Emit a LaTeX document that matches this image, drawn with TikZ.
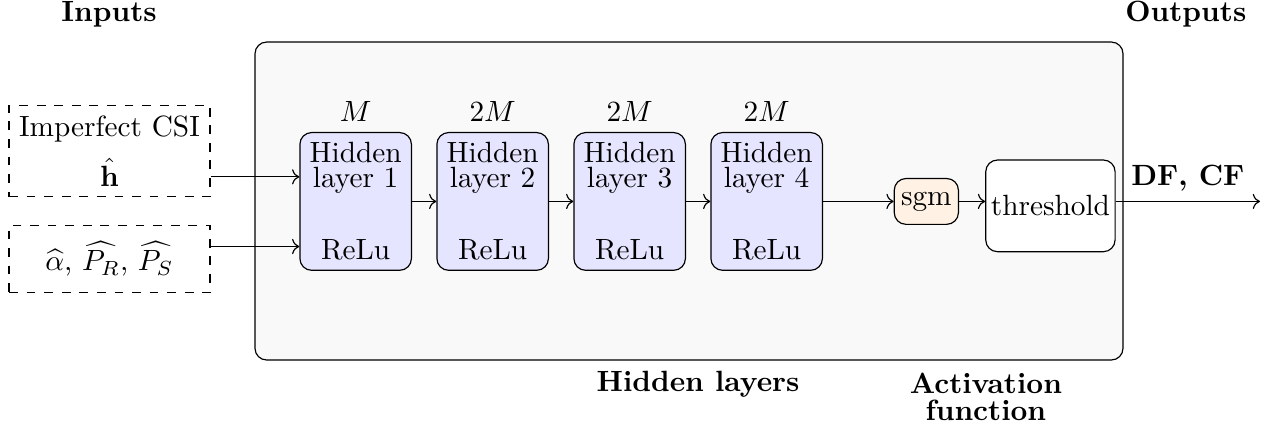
\documentclass[tikz,border=0pt]{standalone}
\usepackage{amssymb}
\usepackage{amsmath}
\usepackage{xcolor}
\usepackage{tikz}
\usetikzlibrary{arrows.meta, positioning}

\begin{document}
\begin{tikzpicture}[
        layer/.style={draw, rounded corners, fill=blue!10, align=center},
        inbox/.style={draw, dashed, minimum width=2.41cm, align=center},
        title/.style={font=\bfseries, align=center}
    ]
    \useasboundingbox (0,0) rectangle (15.276,-5.148);

    % Network block
    \node[draw, rounded corners, fill=black!2.5, minimum width=10.416cm, minimum height=3.816cm] (net) at (8.268,-2.412) {};
    \node[title] (inlbl) at (1.308,-0.168) {Inputs};
    \node[title] (outlbl) at (14.23,-0.168) {Outputs};
    \node[inbox, minimum height=1.10cm] (in1) at (1.314,-1.812) {Imperfect CSI\\[5pt]$\hat{\mathbf{h}}$};
    \node[inbox, minimum height=0.81cm] (in2) at (1.314,-3.108) {$\widehat{\alpha}$, $\widehat{P_R}$, $\widehat{P_S}$};
    \node[layer] (l1) at (4.268,-2.417) {Hidden\\[-3.5pt]layer 1\\[12.7pt]ReLu};
    \node[layer] (l2) at (5.912,-2.417) {Hidden\\[-3.5pt]layer 2\\[12.7pt]ReLu};
    \node[layer] (l3) at (7.556,-2.417) {Hidden\\[-3.5pt]layer 3\\[12.7pt]ReLu};
    \node[layer] (l4) at (9.200,-2.417) {Hidden\\[-3.5pt]layer 4\\[12.7pt]ReLu};
    \node[above=0pt of l1] (m1) {$M$};
    \node[above=0pt of l2] (m2) {$2M$};
    \node[above=0pt of l3] (m3) {$2M$};
    \node[above=0pt of l4] (m4) {$2M$};
    \node[draw, rounded corners, fill=orange!10, inner sep=2pt, minimum width=0.77cm, minimum height=0.55cm] (sgm) at (11.116,-2.417) {sgm};
    \node[draw, rounded corners, fill=white, inner sep=1.5pt, minimum width=1.552cm, minimum height=1.10cm] (thr) at (12.605,-2.470) {threshold};
    \node[title] (hid) at (8.376,-4.614) {Hidden layers};
    \node[title] (act) at (11.83,-4.758) {Activation\\[-2.8pt]function};

    \coordinate (inA) at ([yshift=-3.1mm]in1.east);
    \coordinate (inB) at ([yshift=1.5mm]in2.east);
    \coordinate (out) at (15.12,-2.417);
    \draw[->] (inA) -- (inA -| l1.west);
    \draw[->] (inB) -- (inB -| l1.west);
    \draw[->] (l1) -- (l2);
    \draw[->] (l2) -- (l3);
    \draw[->] (l3) -- (l4);
    \draw[->] (l4) -- (sgm);
    \draw[->] (sgm) -- (sgm -| thr.west);
    \draw[->] (thr.east |- sgm) -- (out) node[midway, above, title] (dfcf) {DF, CF};

    \end{tikzpicture}
\end{document}
